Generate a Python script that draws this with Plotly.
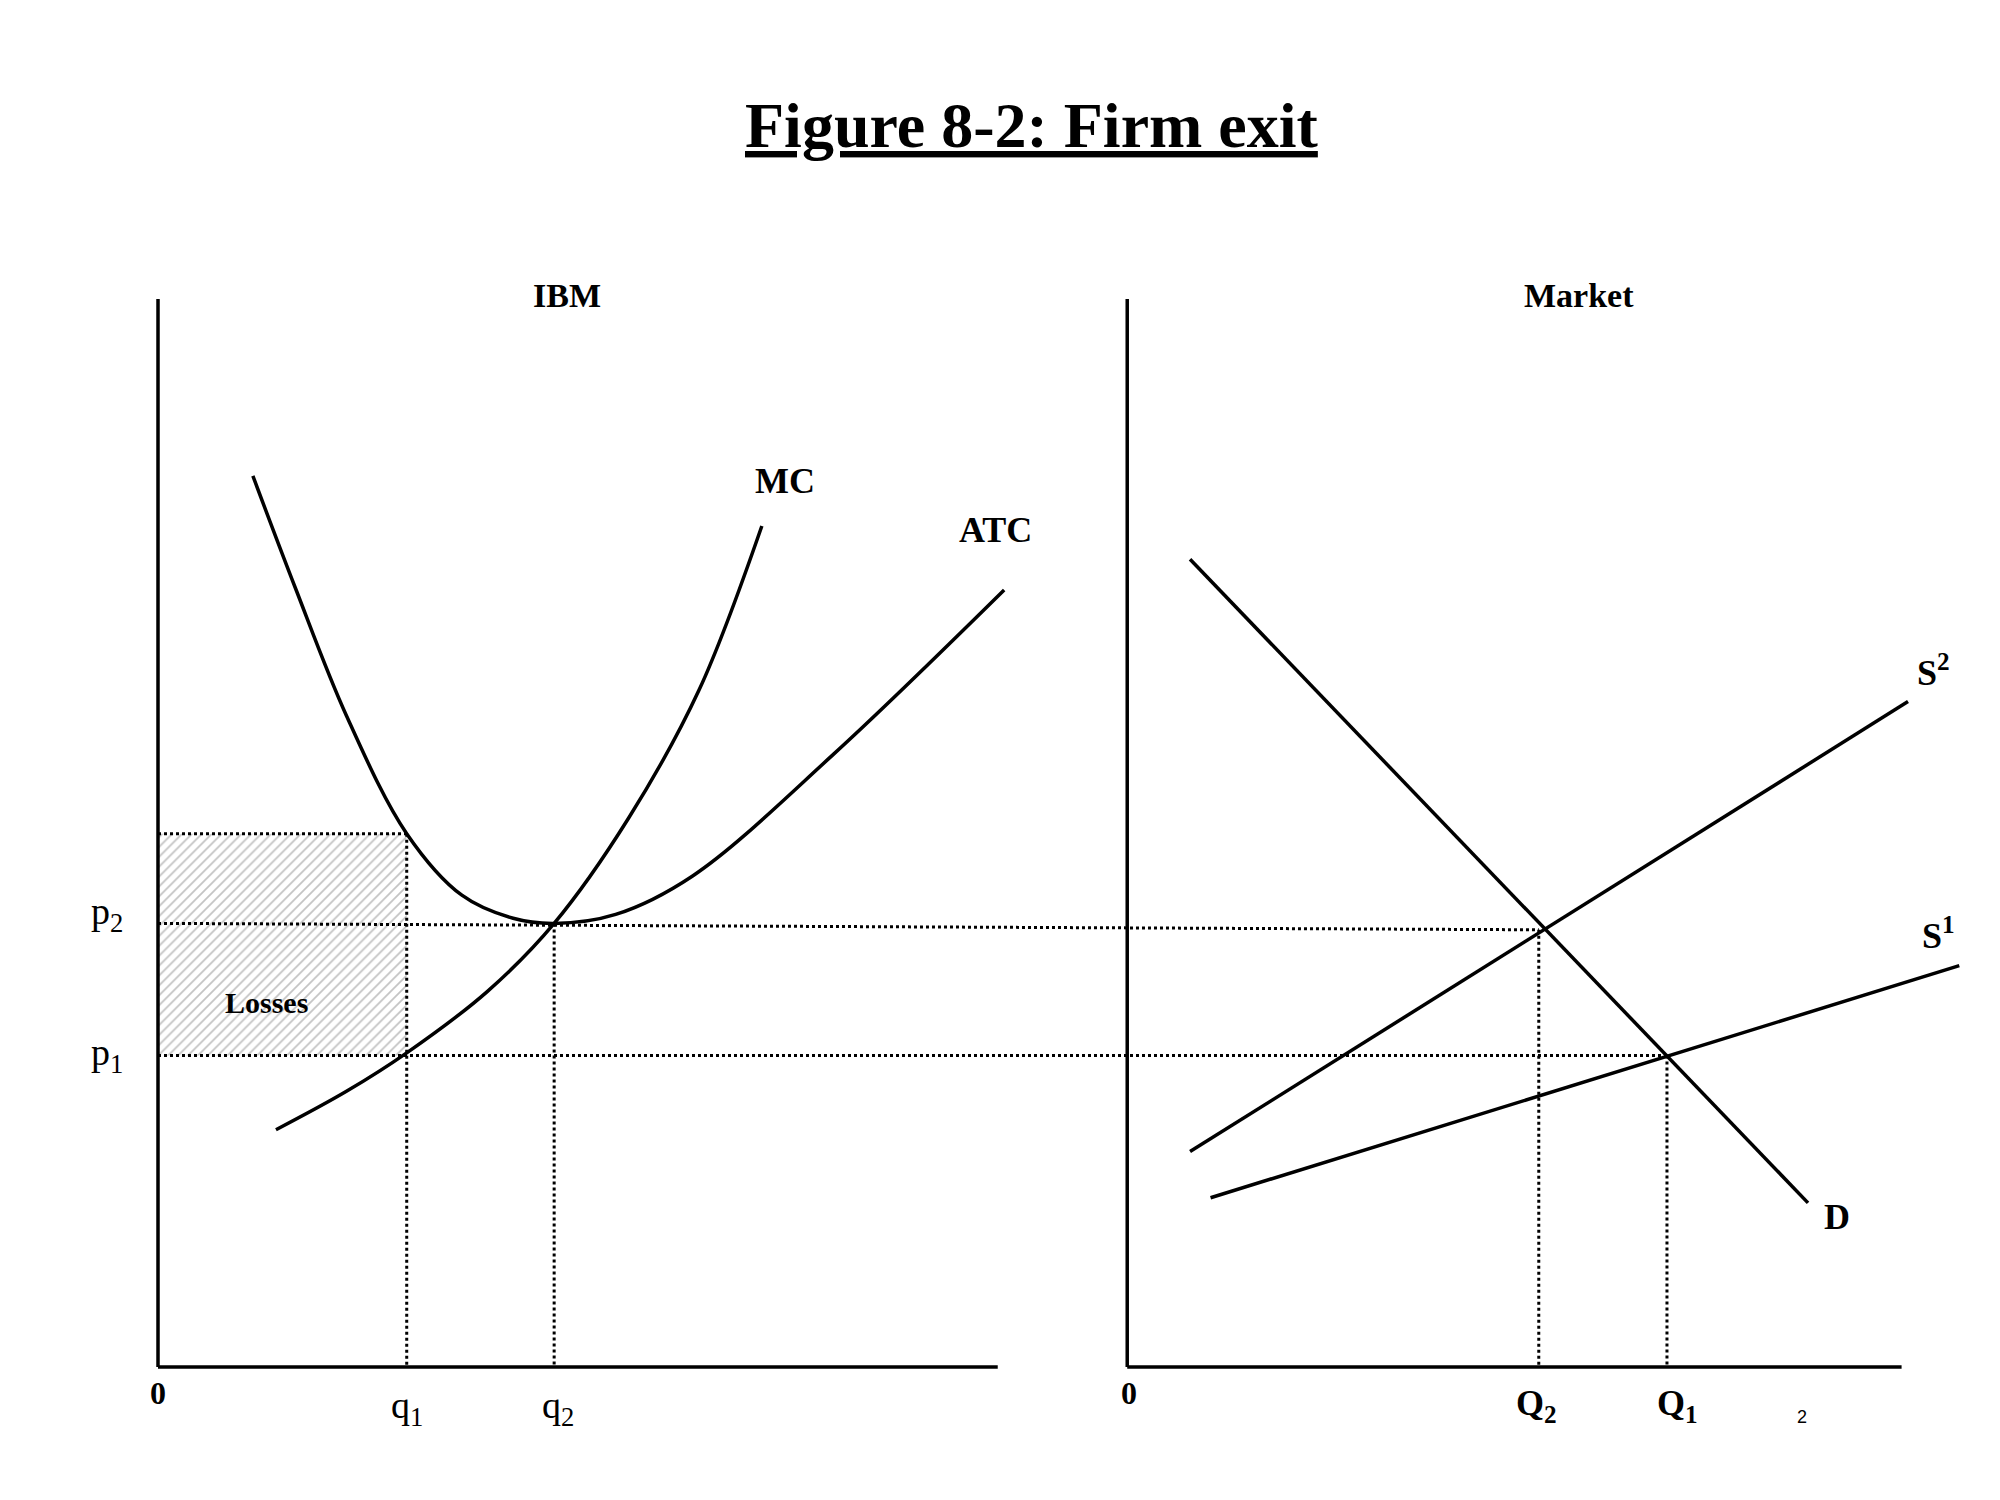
import plotly.graph_objects as go

# Data in a common drawing unit system (x right, y down)
atc_x = [197, 230, 270, 317, 360, 400, 432, 480, 540, 650, 783]
atc_y = [373, 460, 560, 652, 700, 718, 722, 715, 685, 590, 462]
mc_x = [215, 270, 317, 380, 432, 490, 545, 594]
mc_y = [883, 853, 823, 775, 722, 640, 540, 412]
d_x, d_y = [928, 1410], [438, 940]
s2_x, s2_y = [928, 1488], [900, 549]
s1_x, s1_y = [944, 1528], [936, 755]

fig = go.Figure()
blk = dict(color="black", width=3.5)
dot = dict(color="black", width=3, dash="dot")

fig.add_trace(go.Scatter(x=[123, 317, 317, 123, 123], y=[652, 652, 825, 825, 652], mode="lines",
                         line=dict(width=0), fill="toself", fillcolor="rgba(255,255,255,0)",
                         fillpattern=dict(shape="/", fgcolor="#888", size=7, solidity=0.25)))
for xs, ys in [([123, 317], [652, 652]), ([123, 1200], [722, 727]), ([123, 1300], [825, 825]),
               ([317, 317], [652, 1068]), ([432, 432], [722, 1068]),
               ([1200, 1200], [727, 1068]), ([1300, 1300], [825, 1068])]:
    fig.add_trace(go.Scatter(x=xs, y=ys, mode="lines", line=dot))
for xs, ys in [([123, 123], [235, 1068]), ([123, 778], [1068, 1068]),
               ([879, 879], [235, 1068]), ([879, 1483], [1068, 1068])]:
    fig.add_trace(go.Scatter(x=xs, y=ys, mode="lines", line=blk))
fig.add_trace(go.Scatter(x=atc_x, y=atc_y, mode="lines", line=dict(color="black", width=3.5, shape="spline")))
fig.add_trace(go.Scatter(x=mc_x, y=mc_y, mode="lines", line=dict(color="black", width=3.5, shape="spline")))
for xs, ys in [(d_x, d_y), (s2_x, s2_y), (s1_x, s1_y)]:
    fig.add_trace(go.Scatter(x=xs, y=ys, mode="lines", line=blk))

F = "Liberation Serif"
def txt(x, y, t, size=34, bold=True, font=F):
    fig.add_annotation(x=x, y=y, text=(f"<b>{t}</b>" if bold else t), showarrow=False,
                       font=dict(family=font, size=size, color="black"))

txt(805, 100, "<u>Figure 8-2: Firm exit</u>", size=64)
txt(442, 232, "IBM", 34)
txt(1231, 232, "Market", 34)
txt(612, 377, "MC", 36)
txt(776, 415, "ATC", 36)
txt(1508, 525, "S<sup>2</sup>", 36)
txt(1512, 730, "S<sup>1</sup>", 36)
txt(1433, 951, "D", 36)
txt(83, 715, "p<sub>2</sub>", 38, bold=False)
txt(83, 825, "p<sub>1</sub>", 38, bold=False)
txt(208, 784, "Losses", 30)
txt(123, 1088, "0", 32)
txt(317, 1100, "q<sub>1</sub>", 38, bold=False)
txt(435, 1100, "q<sub>2</sub>", 38, bold=False)
txt(880, 1088, "0", 32)
txt(1198, 1098, "Q<sub>2</sub>", 36)
txt(1308, 1098, "Q<sub>1</sub>", 36)
txt(1405, 1107, "2", 18, bold=False, font="Liberation Sans")

fig.update_layout(width=2000, height=1500, margin=dict(l=0, r=0, t=0, b=0),
                  plot_bgcolor="white", paper_bgcolor="white", showlegend=False,
                  xaxis=dict(range=[6, 1566], visible=False, fixedrange=True),
                  yaxis=dict(range=[1178, 8], visible=False, fixedrange=True))
fig.write_html("out.html")
